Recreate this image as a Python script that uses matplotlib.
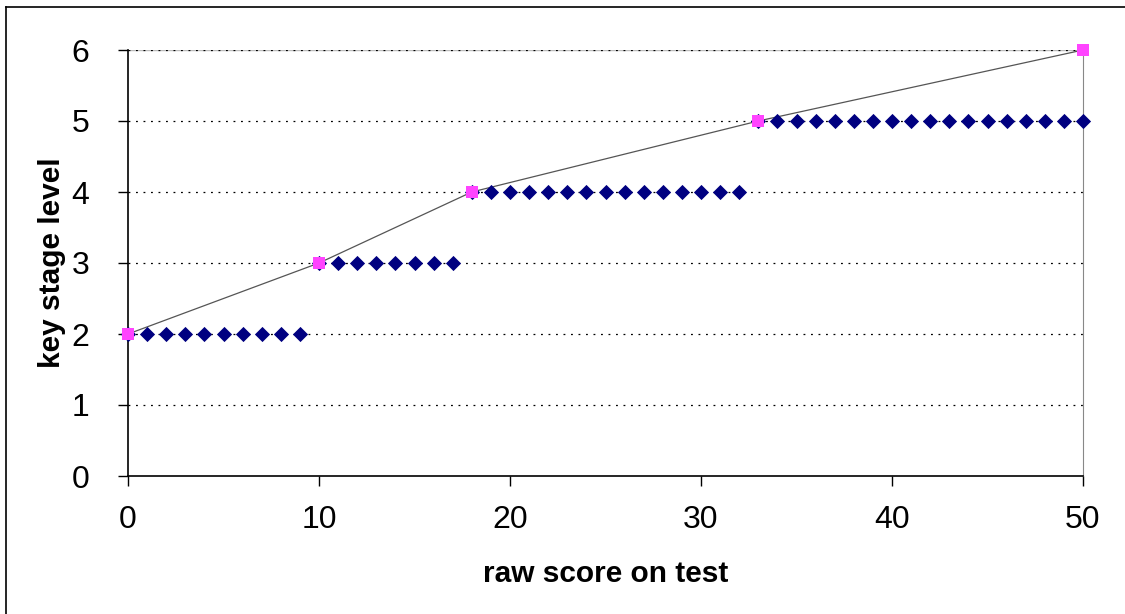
import matplotlib
matplotlib.use("Agg")
import matplotlib.pyplot as plt
from matplotlib.lines import Line2D

plt.rcParams['font.family'] = ['Liberation Sans', 'DejaVu Sans']

# data
raw_scores = list(range(0, 51))
levels = [2]*10 + [3]*8 + [4]*15 + [5]*18
threshold_scores = [0, 10, 18, 33, 50]
threshold_levels = [2, 3, 4, 5, 6]
x_ticks = [0, 10, 20, 30, 40, 50]
y_ticks = [0, 1, 2, 3, 4, 5, 6]

fig = plt.figure(figsize=(11.25, 6.14), dpi=100)
ax = fig.add_axes([128/1125, 1-476/614, (1083-128)/1125, (476-50)/614])

for y in y_ticks[1:]:
    ax.axhline(y, color='black', lw=0.9, ls=(0, (1.5, 4.5)), zorder=1)
ax.axhline(y_ticks[-1], color='#BBBBBB', lw=1.0, zorder=0.5)

ax.plot(threshold_scores, threshold_levels, color='#555555', lw=0.9, zorder=2, clip_on=False)
ax.scatter(raw_scores, levels, marker='D', s=60, color='#000080', zorder=3, linewidths=0, clip_on=False)
ax.scatter(threshold_scores, threshold_levels, marker='s', s=75, color='#FF44FF', zorder=4, linewidths=0, clip_on=False)

ax.set_xlim(0, 50)
ax.set_ylim(0, 6)
ax.set_xticks(x_ticks)
ax.set_yticks(y_ticks)
ax.tick_params(axis='both', labelsize=23, direction='out', length=7, width=1, color='black')
ax.tick_params(axis='x', pad=14)
ax.tick_params(axis='y', pad=21)
for s in ['top', 'right']:
    ax.spines[s].set_color('#888888')
for s in ['left', 'bottom']:
    ax.spines[s].set_color('black')
    ax.spines[s].set_linewidth(1.2)
ax.spines['top'].set_visible(False)

ax.set_xlabel('raw score on test', fontsize=21.5, fontweight='bold', labelpad=18)
ax.set_ylabel('key stage level', fontsize=21.5, fontweight='bold', labelpad=4)

# outer border (left and top visible)
fig.add_artist(Line2D([6/1125, 6/1125], [0, 1-7/614], transform=fig.transFigure, color='black', lw=1.2))
fig.add_artist(Line2D([6/1125, 1], [1-7/614, 1-7/614], transform=fig.transFigure, color='black', lw=1.2))

fig.savefig('out.png', dpi=100)
